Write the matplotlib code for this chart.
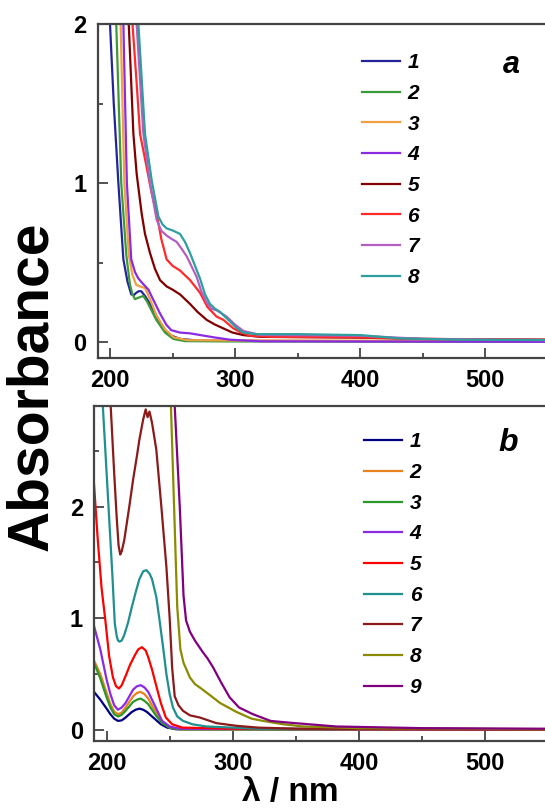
import matplotlib
matplotlib.use("Agg")
import matplotlib.pyplot as plt
from matplotlib.ticker import MultipleLocator

plt.rcParams['font.family'] = ['Liberation Sans', 'DejaVu Sans']
plt.rcParams['font.weight'] = 'bold'

# ---------------- Panel a data ----------------
labels_a = ['1', '2', '3', '4', '5', '6', '7', '8']
colors_a = ['#24249a', '#3a9a3a', '#f0a040', '#8a2be2', '#800000', '#ff2a2a', '#b45fc0', '#2e9e9e']

wl_a1 = [196, 200, 203, 206.7, 210.7, 214, 217, 219, 221, 223, 225, 228, 232, 236, 240, 244, 248, 256, 270, 300, 400, 550]
abs_a1 = [2.6, 2.0, 1.5, 1.0, 0.52, 0.38, 0.30, 0.295, 0.31, 0.32, 0.32, 0.29, 0.24, 0.18, 0.12, 0.075, 0.044, 0.02, 0.01, 0.008, 0.006, 0.005]

wl_a2 = [202, 205, 209, 213, 216, 218, 220, 223, 226.7, 230, 237, 244, 250.7, 260, 300, 550]
abs_a2 = [2.6, 2.0, 1.0, 0.55, 0.36, 0.30, 0.27, 0.28, 0.29, 0.25, 0.14, 0.06, 0.02, 0.006, 0.004, 0.003]

wl_a3 = [205.5, 208.5, 211.5, 215, 218, 221, 224, 228, 232, 237, 244, 251, 262, 300, 550]
abs_a3 = [2.6, 2.0, 1.0, 0.55, 0.42, 0.36, 0.35, 0.34, 0.27, 0.17, 0.08, 0.03, 0.012, 0.01, 0.008]

wl_a4 = [208, 210.7, 213.5, 217, 220, 222.7, 226, 230.7, 235, 240, 245, 249, 256, 264, 283, 296, 320, 550]
abs_a4 = [2.6, 2.0, 1.0, 0.52, 0.44, 0.40, 0.37, 0.33, 0.26, 0.18, 0.11, 0.075, 0.06, 0.055, 0.03, 0.015, 0.005, 0.002]

wl_a5 = [212, 215, 218.7, 221.3, 225.3, 228, 232, 236, 240, 245.3, 250, 256, 264, 270, 277.3, 284, 290.7, 298, 306.7, 320, 400, 450, 550]
abs_a5 = [2.6, 2.0, 1.31, 1.06, 0.81, 0.68, 0.56, 0.46, 0.39, 0.35, 0.33, 0.30, 0.24, 0.19, 0.14, 0.11, 0.086, 0.06, 0.044, 0.033, 0.028, 0.02, 0.015]

wl_a6 = [215, 218, 221.3, 224, 229.3, 233, 237.3, 241, 245.3, 250, 256, 260, 264, 268, 272, 278, 285.3, 290.7, 298.7, 305, 312, 330, 400, 450, 550]
abs_a6 = [2.6, 2.0, 1.63, 1.31, 1.10, 0.95, 0.81, 0.65, 0.52, 0.48, 0.45, 0.42, 0.39, 0.35, 0.31, 0.22, 0.16, 0.14, 0.086, 0.06, 0.04, 0.033, 0.03, 0.02, 0.015]

wl_a7 = [218, 221.3, 226.7, 232, 237.3, 241, 245.3, 249, 253.3, 257, 261.3, 265, 269.3, 273, 277.3, 281, 285.3, 293.3, 300, 306.7, 320, 400, 450, 550]
abs_a7 = [2.6, 2.0, 1.31, 1.0, 0.77, 0.70, 0.67, 0.65, 0.63, 0.59, 0.54, 0.48, 0.41, 0.32, 0.25, 0.21, 0.20, 0.16, 0.11, 0.07, 0.045, 0.04, 0.02, 0.012]

wl_a8 = [220, 222.7, 228, 233.3, 238.7, 242, 245.3, 250.7, 256, 260, 264, 268, 272, 276, 280, 284, 288, 296, 301, 306.7, 317, 350, 400, 432, 480, 550]
abs_a8 = [2.6, 2.0, 1.31, 1.02, 0.79, 0.74, 0.715, 0.70, 0.68, 0.63, 0.56, 0.48, 0.40, 0.30, 0.24, 0.21, 0.19, 0.13, 0.09, 0.06, 0.05, 0.05, 0.044, 0.023, 0.015, 0.013]

# ---------------- Panel b data ----------------
labels_b = ['1', '2', '3', '4', '5', '6', '7', '8', '9']
colors_b = ['#000080', '#e8821e', '#2a982a', '#8a2be2', '#ff0000', '#1f8f8f', '#8b1a1a', '#8b8b00', '#800080']

wl_b1 = [190, 195, 200, 203, 206, 209, 212, 215, 220, 223, 226, 229, 232, 235, 238, 243, 248, 255, 550]
abs_b1 = [0.34, 0.27, 0.19, 0.14, 0.10, 0.08, 0.085, 0.11, 0.16, 0.18, 0.19, 0.18, 0.16, 0.13, 0.10, 0.05, 0.02, 0.005, 0.0]

wl_b234 = [190, 195, 200, 203, 206, 209, 212, 215, 218, 221, 224, 227, 230, 233, 236, 239, 244, 250, 258, 550]
abs_b2 = [0.62, 0.50, 0.33, 0.23, 0.165, 0.14, 0.155, 0.20, 0.25, 0.30, 0.33, 0.34, 0.32, 0.28, 0.22, 0.16, 0.07, 0.02, 0.005, 0.0]
abs_b3 = [0.60, 0.46, 0.29, 0.20, 0.14, 0.12, 0.135, 0.17, 0.21, 0.25, 0.27, 0.28, 0.26, 0.23, 0.18, 0.13, 0.06, 0.02, 0.005, 0.0]
abs_b4 = [0.93, 0.72, 0.45, 0.32, 0.22, 0.18, 0.20, 0.24, 0.30, 0.36, 0.39, 0.40, 0.38, 0.34, 0.27, 0.20, 0.08, 0.03, 0.01, 0.0]

wl_b5 = [190, 193, 196, 199, 202, 205, 207.5, 209.8, 212, 215, 218.5, 222, 225, 228, 231, 233, 236, 239, 243, 247, 252, 260, 300, 550]
abs_b5 = [2.2, 1.7, 1.27, 0.98, 0.66, 0.47, 0.39, 0.37, 0.40, 0.48, 0.58, 0.66, 0.72, 0.74, 0.71, 0.65, 0.54, 0.41, 0.24, 0.11, 0.05, 0.02, 0.01, 0.0]

wl_b6 = [195, 197, 199.5, 202, 204.5, 206.5, 208, 209, 210.3, 212, 214, 217, 220, 223, 226, 229, 231.5, 234, 236, 239.4, 242, 245, 247.4, 250, 252.6, 256, 260.6, 268, 279, 300, 320, 550]
abs_b6 = [3.3, 2.9, 2.4, 1.9, 1.4, 0.95, 0.84, 0.80, 0.79, 0.80, 0.85, 0.96, 1.10, 1.23, 1.35, 1.42, 1.43, 1.40, 1.35, 1.19, 0.98, 0.72, 0.50, 0.32, 0.20, 0.12, 0.08, 0.05, 0.03, 0.02, 0.01, 0.005]

wl_b7 = [200, 203, 206, 208, 209.5, 210.8, 212, 214, 218, 221, 224, 226, 229, 231, 232.5, 234, 236, 239.4, 243.4, 247.4, 250, 252, 254, 257, 260.6, 266, 274, 287, 303, 320, 350, 550]
abs_b7 = [3.5, 2.95, 2.3, 1.9, 1.65, 1.57, 1.60, 1.70, 2.0, 2.24, 2.45, 2.60, 2.78, 2.87, 2.80, 2.85, 2.75, 2.51, 2.0, 1.46, 1.0, 0.55, 0.30, 0.22, 0.17, 0.13, 0.11, 0.06, 0.036, 0.02, 0.01, 0.005]

wl_b8 = [248, 251, 253.5, 256, 258.5, 261, 266, 270, 275, 282, 290, 303, 315, 324, 340, 356, 400, 550]
abs_b8 = [3.2, 2.9, 2.0, 1.1, 0.72, 0.60, 0.47, 0.41, 0.37, 0.31, 0.24, 0.16, 0.10, 0.08, 0.05, 0.03, 0.015, 0.005]

wl_b9 = [251, 254, 258, 261, 263, 266, 270, 276, 280, 284.4, 291, 297.6, 305, 316, 330, 343, 382, 450, 550]
abs_b9 = [3.3, 2.9, 2.0, 1.2, 0.98, 0.88, 0.80, 0.70, 0.64, 0.56, 0.42, 0.29, 0.20, 0.14, 0.08, 0.066, 0.03, 0.015, 0.01]

series_a = [(wl_a1, abs_a1), (wl_a2, abs_a2), (wl_a3, abs_a3), (wl_a4, abs_a4),
            (wl_a5, abs_a5), (wl_a6, abs_a6), (wl_a7, abs_a7), (wl_a8, abs_a8)]
series_b = [(wl_b1, abs_b1), (wl_b234, abs_b2), (wl_b234, abs_b3), (wl_b234, abs_b4),
            (wl_b5, abs_b5), (wl_b6, abs_b6), (wl_b7, abs_b7), (wl_b8, abs_b8), (wl_b9, abs_b9)]

W, H = 545, 811
fig = plt.figure(figsize=(W / 100, H / 100), dpi=100)

def px_axes(left, top, right, bottom):
    return fig.add_axes([left / W, 1 - bottom / H, (right - left) / W, (bottom - top) / H])

ax_a = px_axes(97.5, 24, 547.5, 358)
ax_b = px_axes(94, 406, 548, 741)

spine_col = '#444444'
for ax in (ax_a, ax_b):
    for s in ax.spines.values():
        s.set_color(spine_col)
        s.set_linewidth(1.6)
    ax.set_xlim(190, 550)
    ax.xaxis.set_major_locator(MultipleLocator(100))
    ax.xaxis.set_minor_locator(MultipleLocator(50))
    ax.yaxis.set_major_locator(MultipleLocator(1))
    ax.yaxis.set_minor_locator(MultipleLocator(0.5))
    ax.tick_params(which='both', direction='in', color=spine_col, width=1.3, top=False, right=False)
    ax.tick_params(which='major', length=7, labelsize=17, pad=8)
    ax.tick_params(which='minor', length=3.5)
    for lab in ax.get_xticklabels() + ax.get_yticklabels():
        lab.set_fontweight('bold')

ax_a.set_ylim(-0.1, 2.0)
ax_b.set_ylim(-0.1, 2.9)

for (wl, a), c, l in zip(series_a, colors_a, labels_a):
    ax_a.plot(wl, a, color=c, lw=1.6, label=l)
for (wl, a), c, l in zip(series_b, colors_b, labels_b):
    ax_b.plot(wl, a, color=c, lw=1.6, label=l)

leg_prop = {'weight': 'bold', 'style': 'italic', 'size': 15}
ax_a.legend(loc='upper left', bbox_to_anchor=(0.588, 0.912), frameon=False, prop=leg_prop,
            handlelength=1.83, handletextpad=0.35, labelspacing=0.56, borderpad=0, borderaxespad=0)
ax_b.legend(loc='upper left', bbox_to_anchor=(0.595, 0.921), frameon=False, prop=leg_prop,
            handlelength=1.83, handletextpad=0.35, labelspacing=0.56, borderpad=0, borderaxespad=0)

fig.text(511.7 / W, 1 - 65 / H, 'a', fontsize=22, fontweight='bold', fontstyle='italic', ha='center', va='center')
fig.text(508 / W, 1 - 443 / H, 'b', fontsize=23, fontweight='bold', fontstyle='italic', ha='center', va='center')

fig.text(32 / W, 1 - 386 / H, 'Absorbance', fontsize=41, fontweight='bold', rotation=90, ha='center', va='center')
fig.text(290 / W, 1 - 792 / H, 'λ / nm', fontsize=24, fontweight='bold', ha='center', va='center')

fig.savefig('out.png', dpi=100, facecolor='white')
